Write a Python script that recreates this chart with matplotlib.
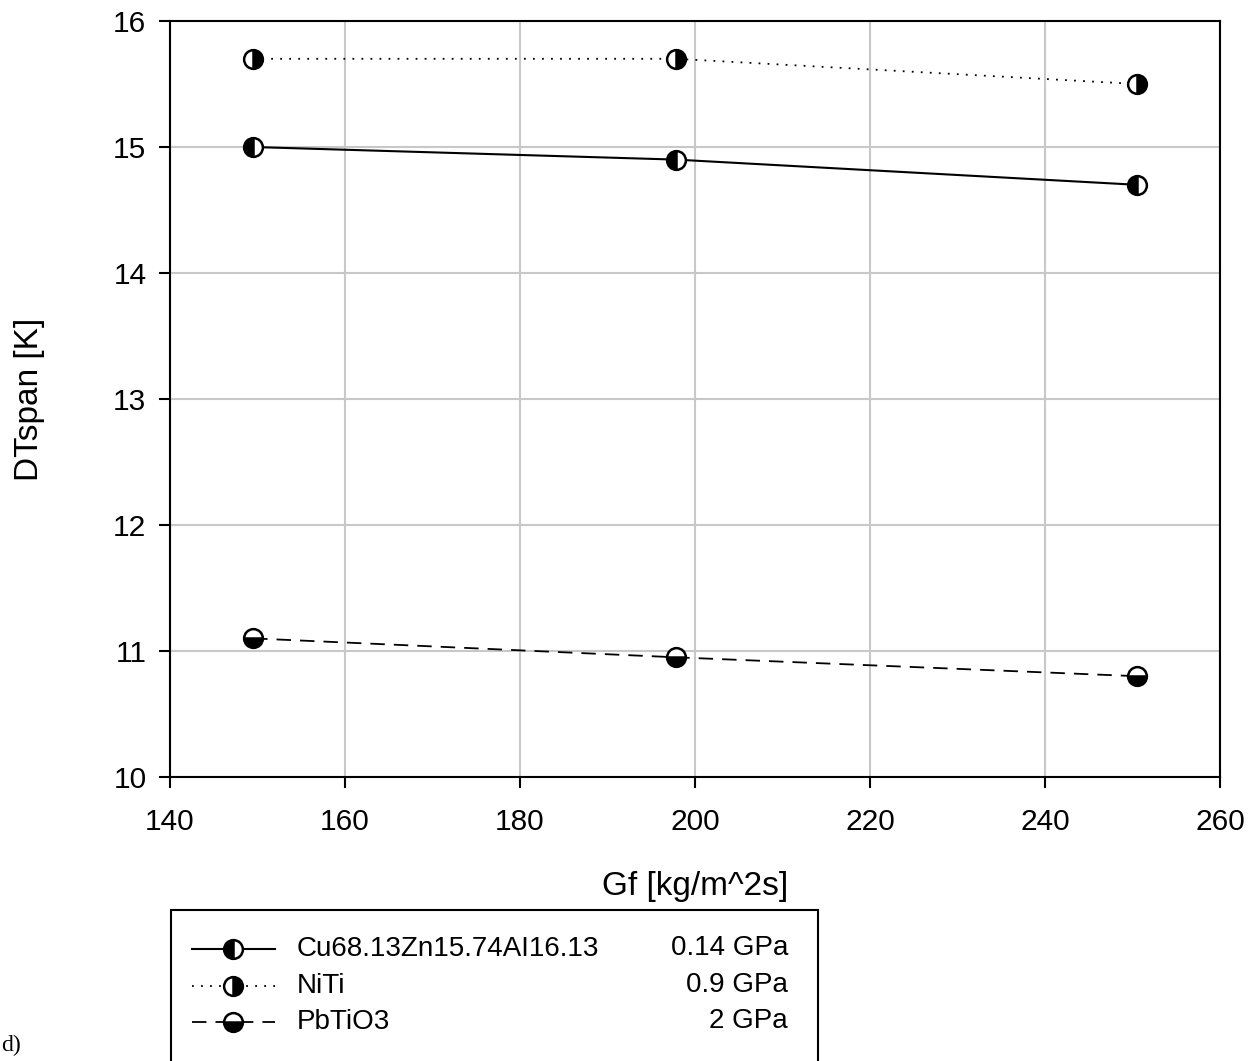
import matplotlib
matplotlib.use("Agg")
import matplotlib.pyplot as plt
from matplotlib.lines import Line2D
from matplotlib.patches import Rectangle

plt.rcParams['font.family'] = ['Liberation Sans', 'DejaVu Sans']

gf = [149.5, 197.8, 250.5]
cu = [15.0, 14.9, 14.7]
niti = [15.7, 15.7, 15.5]
pbtio3 = [11.1, 10.95, 10.8]
names = ["Cu68.13Zn15.74AI16.13", "NiTi", "PbTiO3"]
pressures = ["0.14 GPa", "0.9 GPa", "2 GPa"]
xticks = [140, 160, 180, 200, 220, 240, 260]
yticks = [10, 11, 12, 13, 14, 15, 16]

W, H = 1260, 1061
fig = plt.figure(figsize=(W / 100, H / 100), dpi=100)
ax = fig.add_axes([170 / W, 1 - 777 / H, (1220 - 170) / W, (777 - 21) / H])

styles = [
    dict(ls='-', fill='left'),
    dict(ls=(0, (1, 4)), fill='right'),
    dict(ls=(0, (8, 5)), fill='bottom'),
]
series = [cu, niti, pbtio3]
ms = 13.5
for ys, st in zip(series, styles):
    lw = 1.3 if st['ls'] != '-' else 1.5
    ax.plot(gf, ys, color='black', lw=lw, ls=st['ls'], marker='o', ms=ms,
            fillstyle=st['fill'], markerfacecolor='black', markerfacecoloralt='white',
            markeredgecolor='black', markeredgewidth=1.8, zorder=3)

ax.set_xlim(140, 260)
ax.set_ylim(10, 16)
ax.set_xticks(xticks)
ax.set_yticks(yticks)
ax.grid(True, color='#c8c8c8', lw=1.5)
ax.set_axisbelow(True)
for s in ax.spines.values():
    s.set_linewidth(1.5)
ax.tick_params(axis='both', labelsize=21.5, width=1.5, length=8, direction='out',
               top=False, right=False)
ax.tick_params(axis='x', pad=14)
ax.tick_params(axis='y', pad=9)


def fx(px):
    return px / W


def fy(py):
    return 1 - py / H


fig.text(fx(695), fy(886), "Gf [kg/m^2s]", fontsize=24, ha='center', va='center')
fig.text(fx(30), fy(399), "DTspan [K]", fontsize=24, ha='center', va='center',
         rotation=90)

# legend box
rect = Rectangle((fx(171), fy(1075)), fx(818) - fx(171), fy(910) - fy(1075),
                 transform=fig.transFigure, fill=False, lw=1.5, edgecolor='black',
                 clip_on=False)
fig.add_artist(rect)
rows = [949, 986, 1022]
for yy, st, name, pr in zip(rows, styles, names, pressures):
    lw = 1.3 if st['ls'] != '-' else 1.5
    fig.add_artist(Line2D([fx(192), fx(275)], [fy(yy), fy(yy)], color='black',
                          lw=lw, ls=st['ls'], transform=fig.transFigure))
    fig.add_artist(Line2D([fx(233)], [fy(yy)], marker='o', ms=ms, ls='none',
                          fillstyle=st['fill'], markerfacecolor='black',
                          markerfacecoloralt='white', markeredgecolor='black',
                          markeredgewidth=1.8, transform=fig.transFigure))
    fig.text(fx(297), fy(yy), name, fontsize=20, va='center', ha='left')
    fig.text(fx(788), fy(yy - 1), pr, fontsize=20, va='center', ha='right')

fig.text(fx(1), fy(1045), "d)", fontsize=17, family=['Liberation Serif', 'DejaVu Serif'],
         va='center', ha='left')

fig.savefig("out.png", dpi=100)
